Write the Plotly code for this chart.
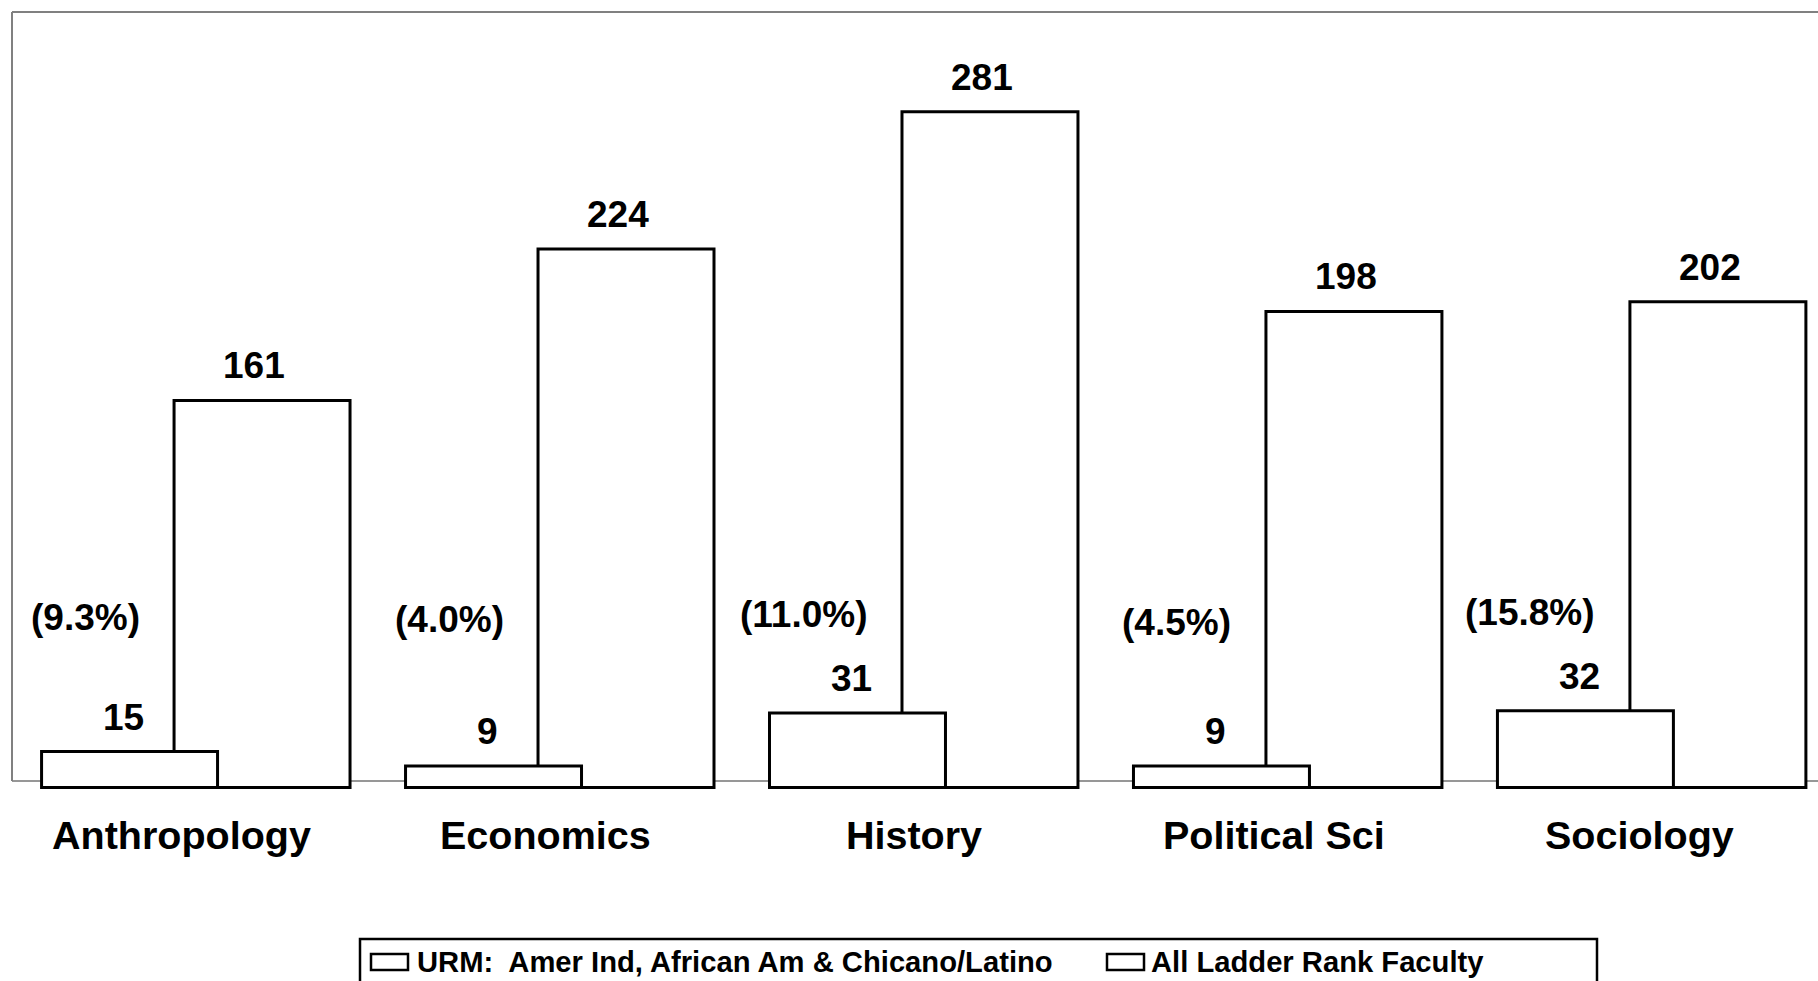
import plotly.graph_objects as go

# ---- data -------------------------------------------------------------
departments = ["Anthropology", "Economics", "History", "Political Sci", "Sociology"]
urm_faculty = [15, 9, 31, 9, 32]
all_ladder_faculty = [161, 224, 281, 198, 202]
series_names = ["URM:\u00a0 Amer Ind, African Am & Chicano/Latino", "All Ladder Rank Faculty"]

# ---- geometry (pixels of the 1818x981 canvas) -------------------------
W, H = 1818, 981
PLOT_L, PLOT_R, PLOT_T, PLOT_B = 12, 1818, 12, 790

FONT = "Liberation Sans, Arial, Helvetica, sans-serif"

BAR_W = 0.4835          # bar width in category units
URM_SHIFT = -0.144      # centre of the URM bar relative to the category
ALL_SHIFT = 0.22        # centre of the all-faculty bar relative to the category

xpos = list(range(len(departments)))


def paper_y(p):
    return (PLOT_B - p) / (PLOT_B - PLOT_T)


def paper_x(p):
    return (p - PLOT_L) / (PLOT_R - PLOT_L)


bar_style = dict(color="white", line=dict(color="black", width=3))

fig = go.Figure()
fig.add_trace(go.Bar(
    x=xpos, y=all_ladder_faculty, name=series_names[1],
    width=BAR_W, offset=ALL_SHIFT - BAR_W / 2,
    marker=bar_style, showlegend=False, hoverinfo="y",
))
fig.add_trace(go.Bar(
    x=xpos, y=urm_faculty, name=series_names[0],
    width=BAR_W, offset=URM_SHIFT - BAR_W / 2,
    marker=bar_style, showlegend=False, hoverinfo="y",
))

annotations = []

# value labels above each bar
for i, (u, a) in enumerate(zip(urm_faculty, all_ladder_faculty)):
    for val, shift, dx in ((a, ALL_SHIFT, -8), (u, URM_SHIFT, -6)):
        annotations.append(dict(
            x=i + shift, y=val, xref="x", yref="y",
            text=str(val), showarrow=False,
            xanchor="center", yanchor="bottom", yshift=12, xshift=dx,
            font=dict(family=FONT, size=37, color="black", weight="bold"),
        ))

# URM share of all ladder-rank faculty, right-aligned near the URM bar
pct_center_px = [617, 619, 614, 622, 612]
for i, (u, a) in enumerate(zip(urm_faculty, all_ladder_faculty)):
    annotations.append(dict(
        x=i + URM_SHIFT - BAR_W / 2, y=paper_y(pct_center_px[i]),
        xref="x", yref="paper", xshift=100,
        text=f"({u / a * 100:.1f}%)", showarrow=False,
        xanchor="right", yanchor="middle",
        font=dict(family=FONT, size=37, color="black", weight="bold"),
    ))

# category labels
label_dx = [0, 0, 4, 0, 2]
for i, name in enumerate(departments):
    annotations.append(dict(
        x=i, y=paper_y(834.5), xref="x", yref="paper", xshift=label_dx[i],
        text=name, showarrow=False, xanchor="center", yanchor="middle",
        font=dict(family=FONT, size=39.5, color="black", weight="bold"),
    ))

# legend entries
legend_items = [(371, 408, 415, series_names[0]), (1107, 1144, 1149, series_names[1])]
shapes = []
for x0, x1, tx, label in legend_items:
    shapes.append(dict(
        type="rect", xref="paper", yref="paper",
        x0=paper_x(x0), x1=paper_x(x1), y0=paper_y(970), y1=paper_y(954),
        line=dict(color="black", width=2.5), fillcolor="white", layer="above",
    ))
    annotations.append(dict(
        x=paper_x(tx), y=paper_y(962), xref="paper", yref="paper",
        text=label, showarrow=False, xanchor="left", yanchor="middle",
        font=dict(family=FONT, size=29.2, color="black", weight="bold"),
    ))

# legend frame (runs past the lower edge of the canvas)
shapes.append(dict(
    type="rect", xref="paper", yref="paper",
    x0=paper_x(360), x1=paper_x(1597), y0=paper_y(1010), y1=paper_y(939),
    line=dict(color="black", width=2.5), fillcolor="rgba(0,0,0,0)", layer="above",
))

# category axis baseline, drawn beneath the bars
shapes.append(dict(
    type="line", xref="paper", yref="paper",
    x0=0, x1=1, y0=paper_y(781), y1=paper_y(781),
    line=dict(color="#303030", width=1.2), layer="below",
))
# plot-area frame: left and top edges
shapes.append(dict(
    type="line", xref="paper", yref="paper",
    x0=0, x1=0, y0=paper_y(781), y1=1,
    line=dict(color="#808080", width=2), layer="above",
))
shapes.append(dict(
    type="line", xref="paper", yref="paper",
    x0=0, x1=1, y0=1, y1=1,
    line=dict(color="#808080", width=2), layer="above",
))

fig.update_layout(
    width=W, height=H,
    margin=dict(l=PLOT_L, r=W - PLOT_R, t=PLOT_T, b=H - PLOT_B, pad=0),
    paper_bgcolor="white", plot_bgcolor="white",
    barmode="overlay",
    showlegend=False,
    xaxis=dict(range=[-0.467, 4.495], visible=False, fixedrange=True),
    yaxis=dict(range=[-1.0, 322.5], visible=False, fixedrange=True),
    annotations=annotations,
    shapes=shapes,
    font=dict(family=FONT, color="black"),
)

fig.write_html("out.html", config={"displayModeBar": False})
